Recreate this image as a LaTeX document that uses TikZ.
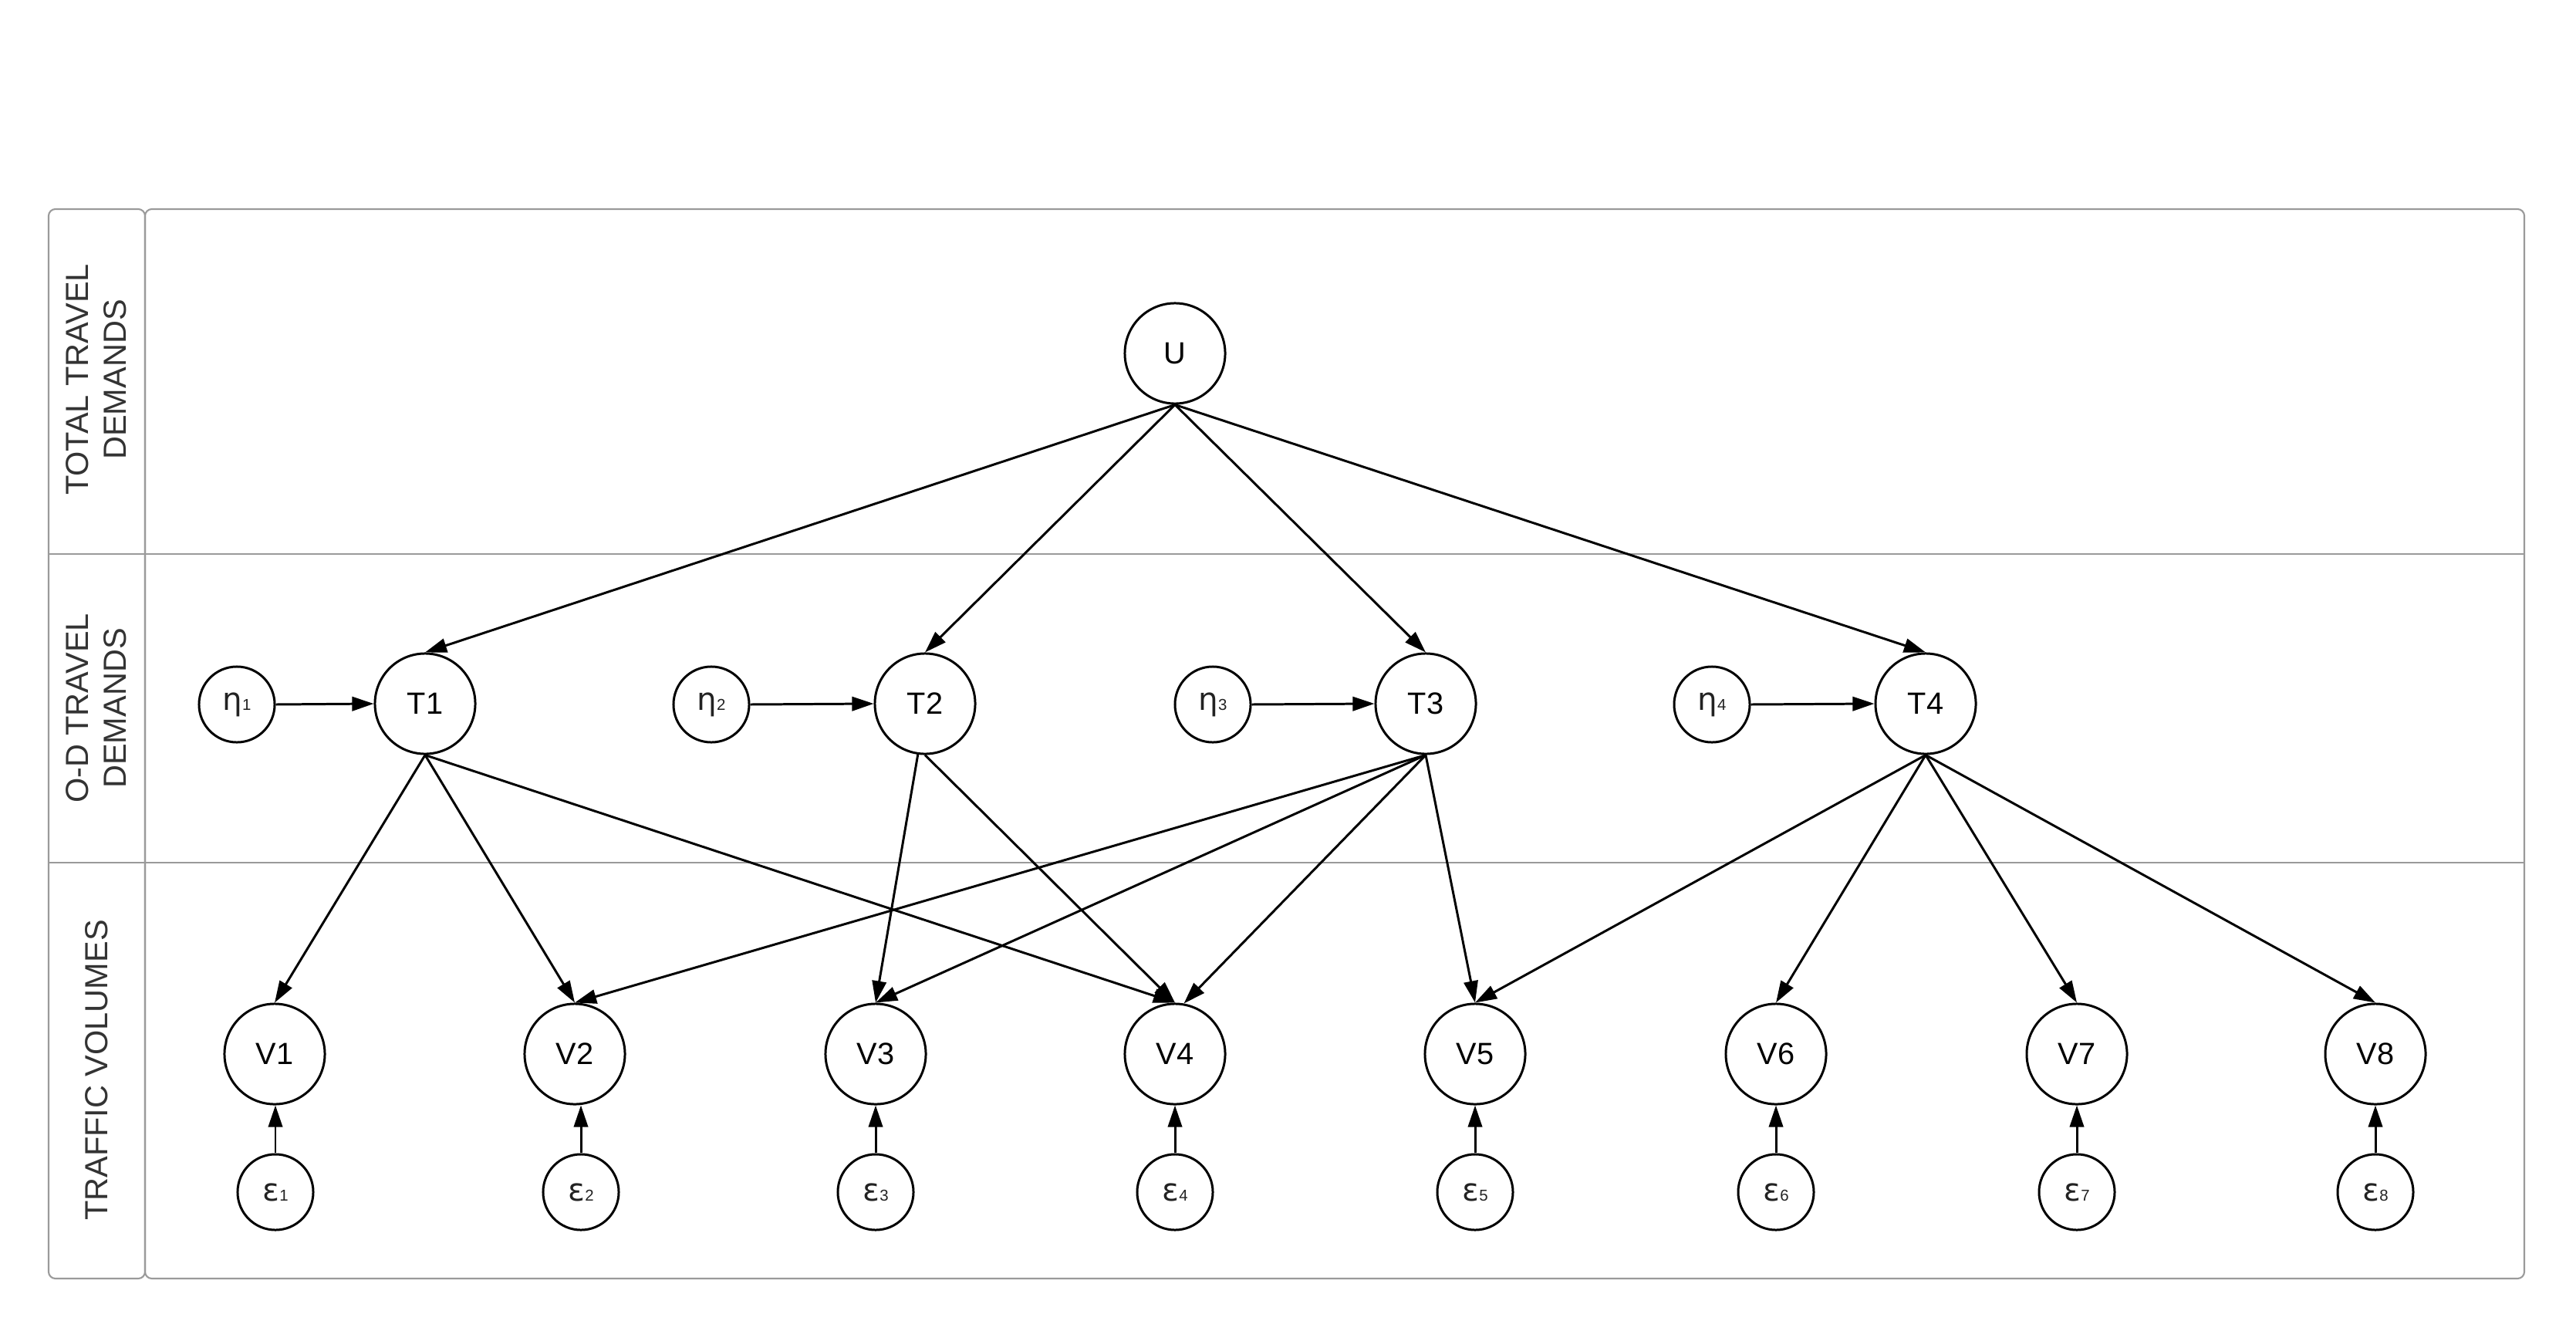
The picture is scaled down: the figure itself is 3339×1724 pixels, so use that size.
\documentclass[tikz,border=0pt]{standalone}
\usepackage{fontspec}
\setmainfont{Liberation Sans}
\newfontfamily\grkfont{DejaVu Sans}
\usetikzlibrary{arrows.meta}
\definecolor{lanegray}{HTML}{9A9A9A}
\definecolor{grktext}{HTML}{222222}
\definecolor{labtext}{HTML}{333333}
\newcommand\grsub[2]{{\grkfont\fontsize{11.5}{13}\selectfont #1}{\fontsize{5.8}{6}\selectfont #2}}
\begin{document}
\begin{tikzpicture}[x=0.01cm,y=-0.01cm,
  big/.style={circle,draw,line width=0.85pt,minimum size=1.3cm,inner sep=0pt,font=\fontsize{11.3}{13}\selectfont},
  small/.style={circle,draw,line width=0.85pt,minimum size=0.98cm,inner sep=0pt,text=grktext},
  lane/.style={draw=lanegray,line width=0.6pt},
  arr/.style={line width=0.85pt,-{Triangle[length=8pt,width=5.2pt]}},
  lab/.style={rotate=90,align=center,text=labtext,font=\fontsize{11.8}{14}\selectfont}]
\useasboundingbox (0,0) rectangle (3339,1724);
% swimlane frame
\draw[lane,rounded corners=2.5pt] (188,271) rectangle (3272,1657);
\draw[lane,rounded corners=2.5pt] (63,271) rectangle (188,1657);
\draw[lane] (63,718) -- (3272,718);
\draw[lane] (63,1118) -- (3272,1118);
\node[lab] (L1) at (125,492) {TOTAL TRAVEL\\DEMANDS};
\node[lab] (L2) at (125,918) {O-D TRAVEL\\DEMANDS};
\node[lab] (L3) at (125,1387) {TRAFFIC VOLUMES};
% nodes
\node[big] (U) at (1523,458) {U};
\node[big] (T1) at (551,912) {T1};
\node[big] (T2) at (1199,912) {T2};
\node[big] (T3) at (1848,912) {T3};
\node[big] (T4) at (2496,912) {T4};
\node[small] (h1) at (307,913) {\grsub{η}{1}};
\node[small] (h2) at (922,913) {\grsub{η}{2}};
\node[small] (h3) at (1572,913) {\grsub{η}{3}};
\node[small] (h4) at (2219,913) {\grsub{η}{4}};
\node[big] (V1) at (356,1366) {V1};
\node[big] (V2) at (745,1366) {V2};
\node[big] (V3) at (1135,1366) {V3};
\node[big] (V4) at (1523,1366) {V4};
\node[big] (V5) at (1912,1366) {V5};
\node[big] (V6) at (2302,1366) {V6};
\node[big] (V7) at (2692,1366) {V7};
\node[big] (V8) at (3079,1366) {V8};
\node[small] (e1) at (357,1545) {\grsub{ε}{1}};
\node[small] (e2) at (753,1545) {\grsub{ε}{2}};
\node[small] (e3) at (1135,1545) {\grsub{ε}{3}};
\node[small] (e4) at (1523,1545) {\grsub{ε}{4}};
\node[small] (e5) at (1912,1545) {\grsub{ε}{5}};
\node[small] (e6) at (2302,1545) {\grsub{ε}{6}};
\node[small] (e7) at (2692,1545) {\grsub{ε}{7}};
\node[small] (e8) at (3079,1545) {\grsub{ε}{8}};
% U -> T
\foreach \t in {T1,T2,T3,T4} \draw[arr] (U.south) -- (\t.north);
% eta -> T
\foreach \i in {1,2,3,4} \draw[arr] (h\i.east) -- (T\i.west);
% T -> V
\draw[arr] (T1.south) -- (V1.north);
\draw[arr] (T1.south) -- (V2.north);
\draw[arr] (T1.south) -- (V4.north);
\draw[arr] (T2.262) -- (V3.north);
\draw[arr] (T2.south) -- (V4.north);
\draw[arr] (T3.south) -- (V2.north);
\draw[arr] (T3.south) -- (V3.north);
\draw[arr] (T3.south) -- (V4.80);
\draw[arr] (T3.south) -- (V5.north);
\draw[arr] (T4.south) -- (V5.north);
\draw[arr] (T4.south) -- (V6.north);
\draw[arr] (T4.south) -- (V7.north);
\draw[arr] (T4.south) -- (V8.north);
% eps -> V
\foreach \i in {1,...,8} \draw[arr] (e\i.north) -- (e\i.north |- V\i.south);
\end{tikzpicture}
\end{document}
